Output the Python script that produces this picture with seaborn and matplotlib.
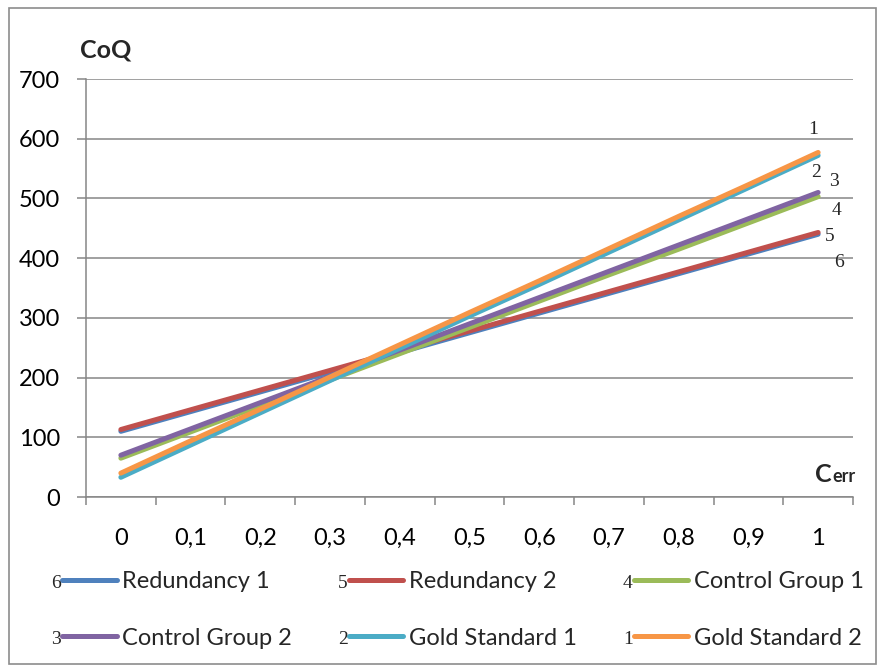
import pandas as pd
import seaborn as sns
import matplotlib.pyplot as plt
from matplotlib.patches import Rectangle

# categories on the x axis (Excel line chart, comma decimals)
x_labels = ["0", "0,1", "0,2", "0,3", "0,4", "0,5", "0,6", "0,7", "0,8", "0,9", "1"]

series_names = ["Redundancy 1", "Redundancy 2", "Control Group 1",
                "Control Group 2", "Gold Standard 1", "Gold Standard 2"]
series_numbers = ["6", "5", "4", "3", "2", "1"]
series_colors = ["#4F81BD", "#C0504D", "#9BBB59", "#8064A2", "#4BACC6", "#F79646"]

redundancy_1 = [110, 143, 176, 209, 242, 275, 308, 341, 374, 407, 440]
redundancy_2 = [113, 146, 179, 212, 245, 278, 311, 344, 377, 410, 443]
control_group_1 = [65, 109, 153, 196, 240, 284, 328, 372, 415, 459, 503]
control_group_2 = [70, 114, 158, 202, 246, 290, 334, 378, 422, 466, 510]
gold_standard_1 = [33, 87, 141, 195, 249, 303, 356, 410, 464, 518, 572]
gold_standard_2 = [40, 94, 147, 201, 255, 309, 362, 416, 470, 523, 577]

all_values = [redundancy_1, redundancy_2, control_group_1,
              control_group_2, gold_standard_1, gold_standard_2]

rows = []
for name, vals in zip(series_names, all_values):
    for i, v in enumerate(vals):
        rows.append({"pos": i, "CoQ": v, "series": name})
df = pd.DataFrame(rows)

sns.set_theme(style="white")
plt.rcParams['font.family'] = ['Lato', 'DejaVu Sans']

W, H = 878, 666
fig = plt.figure(figsize=(W / 100, H / 100), dpi=100)
ax = fig.add_axes([86 / W, 1 - 497 / H, (853 - 86) / W, (497 - 79) / H])

sns.lineplot(data=df, x="pos", y="CoQ", hue="series", hue_order=series_names,
             palette=series_colors, linewidth=3.6, solid_capstyle="round", ax=ax)

ax.set_xlim(-0.5, 10.5)
ax.set_ylim(0, 700)
ax.set_yticks(range(0, 701, 100))
ax.set_xticks(range(len(x_labels)))
ax.set_xticklabels(x_labels)
ax.set_xticks([i - 0.5 for i in range(len(x_labels) + 1)], minor=True)
ax.set_xlabel("")
ax.set_ylabel("")

grid_col = "#868686"
ax.grid(axis="y", color=grid_col, linewidth=1.1)
ax.set_axisbelow(True)
for s in ["top", "right"]:
    ax.spines[s].set_visible(False)
for s in ["left", "bottom"]:
    ax.spines[s].set_color(grid_col)
    ax.spines[s].set_linewidth(1.1)

ax.tick_params(axis="y", which="major", direction="out", length=6.5, width=1.1,
               color=grid_col, pad=12, labelsize=17, labelcolor="black", left=True)
ax.tick_params(axis="x", which="major", length=0, pad=22, labelsize=17, labelcolor="black")
ax.tick_params(axis="x", which="minor", direction="out", length=6, width=1.1,
               color=grid_col, bottom=True)

# legend: Excel fills rows first, matplotlib fills columns, so reorder
old = ax.get_legend()
handles = list(old.legend_handles)
labels = [t.get_text() for t in old.get_texts()]
old.remove()
order = [0, 3, 1, 4, 2, 5]
leg = ax.legend([handles[i] for i in order], [labels[i] for i in order],
                loc="center", bbox_to_anchor=(463 / W, 1 - 610 / H),
                bbox_transform=fig.transFigure, ncol=3, frameon=False,
                fontsize=17, handlelength=2.3, handletextpad=0.25,
                columnspacing=2.4, labelspacing=1.5)
for line in leg.get_lines():
    line.set_linewidth(3.6)
    line.set_solid_capstyle("round")

# axis captions
fig.text(80 / W, 1 - 50 / H, "CoQ", fontsize=18, fontweight="bold", va="center", ha="left")
c_txt = fig.text(815 / W, 1 - 482 / H, "C", fontsize=18, fontweight="bold",
                 va="baseline", ha="left")

# numbers next to line ends
serif = ["Liberation Serif", "DejaVu Serif"]
end_labels = [("1", 9.93, 615), ("2", 9.97, 544), ("3", 10.23, 529),
              ("4", 10.26, 479), ("5", 10.17, 437), ("6", 10.3, 392)]
for txt, xp, yp in end_labels:
    ax.text(xp, yp, txt, family=serif, fontsize=14, ha="center", va="center", clip_on=False)

fig.canvas.draw()
cb = c_txt.get_window_extent()
fig.text(cb.x1 + 0.5, 1 - 482 / H, "err", fontsize=13, fontweight="bold",
         va="baseline", ha="left", transform=fig.transFigure)
fig.texts[-1].set_position((cb.x1 / W + 0.5 / W, 1 - 482 / H))

# numbers in front of the legend handles
leg_numbers = [series_numbers[i] for i in order]
for line, num in zip(leg.get_lines(), leg_numbers):
    bb = line.get_window_extent()
    fig.text(bb.x0 - 1, (bb.y0 + bb.y1) / 2 - 3, num, family=serif, fontsize=14,
             ha="right", va="center", transform=None)

# chart border
fig.patches.append(Rectangle((9 / W, 2 / H), (876 - 9) / W, (664 - 8) / H,
                             transform=fig.transFigure, fill=False,
                             edgecolor="#8c8c8c", linewidth=1.2))

fig.savefig("out.png", dpi=100)
